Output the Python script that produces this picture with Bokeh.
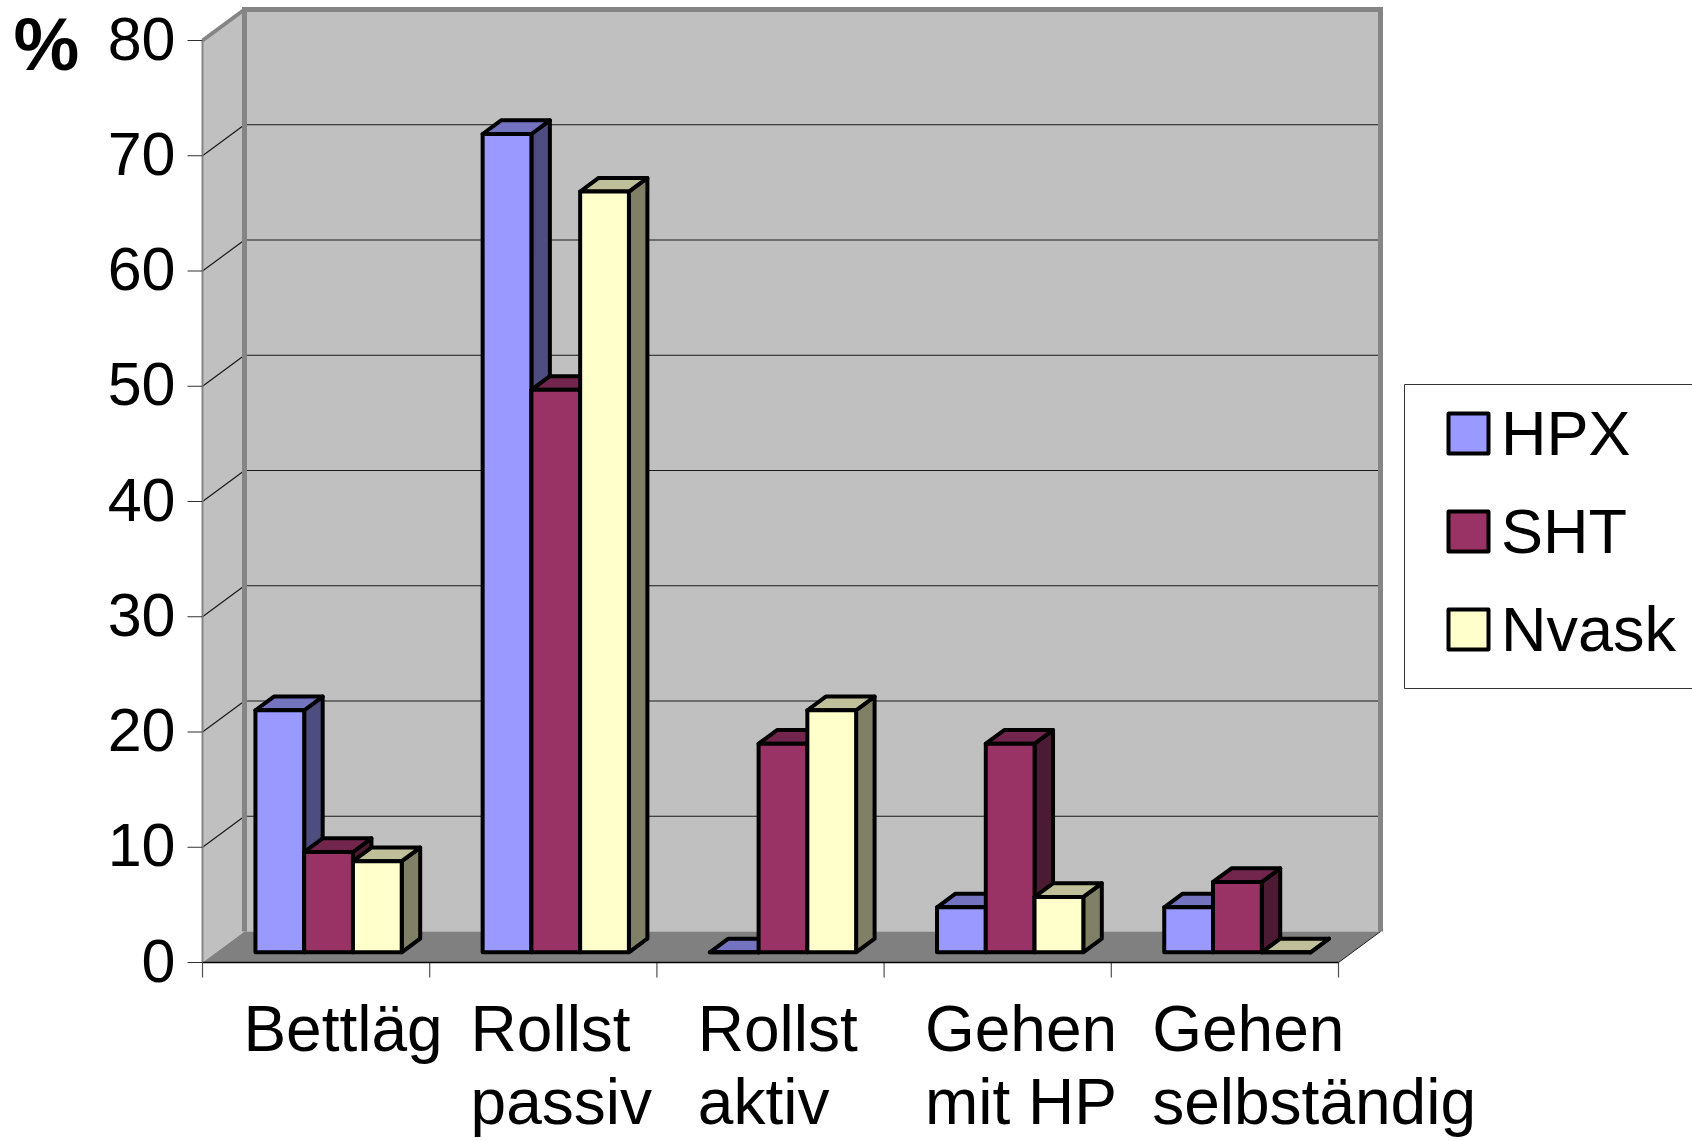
from bokeh.plotting import figure
from bokeh.models import Range1d, Legend, LegendItem
from bokeh.core.properties import value
from bokeh.embed import file_html
from bokeh.resources import INLINE

# ---------------- data ----------------
categories = ["Bettläg", "Rollst passiv", "Rollst aktiv", "Gehen mit HP", "Gehen selbständig"]
label_lines = [["Bettläg"], ["Rollst", "passiv"], ["Rollst", "aktiv"],
               ["Gehen", "mit HP"], ["Gehen", "selbständig"]]
series_names = ["HPX", "SHT", "Nvask"]
hpx = [21.0, 71.0, 0.0, 3.9, 3.9]
sht = [8.7, 48.8, 18.1, 18.1, 6.1]
nvask = [7.9, 66.0, 21.0, 4.8, 0.0]
y_ticks = [0, 10, 20, 30, 40, 50, 60, 70, 80]
y_max = 80
unit_label = "%"

# ---------------- styles / geometry ----------------
front_colors = ["#9999FF", "#993366", "#FFFFCC"]
top_colors = ["#7373BF", "#73264D", "#BFBF99"]
side_colors = ["#4D4D80", "#4D1A33", "#808066"]
FONT = "Liberation Sans"

W, H = 1692, 1141
AX_LEFT = 202          # px of the front value axis
AX_BASE = 962          # px of the zero line
CAT_PX = 227.2         # px per category
UNIT_PX = 11.525       # px per value unit
DX = 42 / CAT_PX       # depth offset of back wall (x, data units)
DY = 31 / UNIT_PX      # depth offset of back wall (y, data units)
Z0 = 0.33              # bar front depth fraction
ZB = 0.44              # bar depth fraction
BAR_OFF = 0.172
BAR_W = 0.2146
TICK = 15              # px tick length
OUTLINE = 4
n_cat = len(categories)


def px_x(px):
    return (px - AX_LEFT) / CAT_PX


def px_y(py):
    return (AX_BASE - py) / UNIT_PX


p = figure(width=W, height=H, output_backend="svg", toolbar_location=None,
           x_range=Range1d(px_x(0), px_x(W)), y_range=Range1d(px_y(H), px_y(0)),
           x_axis_type=None, y_axis_type=None, title=None,
           min_border_left=0, min_border_bottom=0, min_border_top=0, min_border_right=0)
p.outline_line_color = None
p.background_fill_color = "white"
p.border_fill_color = "white"

# ---------------- walls ----------------
p.patch([0, DX, DX, 0], [0, DY, y_max + DY, y_max], fill_color="#C0C0C0", line_color=None)
p.quad(left=[DX], right=[n_cat + DX], bottom=[DY], top=[y_max + DY],
       fill_color="#C0C0C0", line_color=None)
p.patch([0, n_cat, n_cat + DX, DX], [0, 0, DY, DY], fill_color="#808080", line_color=None)

grid_vals = [v for v in y_ticks if 0 < v < y_max]
p.multi_line(xs=[[0, DX, n_cat + DX] for v in grid_vals],
             ys=[[v, v + DY, v + DY] for v in grid_vals],
             line_color="#1a1a1a", line_width=1.2)
# wall borders
p.line([DX, DX, n_cat + DX, n_cat + DX], [DY, y_max + DY, y_max + DY, DY],
       line_color="#858585", line_width=5, line_join="miter")
p.line([0, DX], [y_max, y_max + DY], line_color="#858585", line_width=4)
p.line([n_cat, n_cat + DX], [0, DY], line_color="#202020", line_width=1)

# ---------------- value axis (front left) ----------------
p.line([0, 0], [0, y_max], line_color="#858585", line_width=2)
tx = TICK / CAT_PX
p.segment(x0=[-tx] * len(y_ticks), y0=y_ticks, x1=[0] * len(y_ticks), y1=y_ticks,
          line_color="#303030", line_width=1.2)
p.text(x=[px_x(AX_LEFT - TICK - 12)] * len(y_ticks),
       y=[v + 2 / UNIT_PX for v in y_ticks], text=[str(v) for v in y_ticks],
       text_align="right", text_baseline="alphabetic", text_color="black",
       text_font=value(FONT), text_font_size=value("61px"))
p.text(x=[px_x(13)], y=[px_y(44)], text=[unit_label], text_align="left",
       text_baseline="alphabetic", text_color="black", text_font=value(FONT),
       text_font_size=value("74px"), text_font_style="bold")

# ---------------- category axis (front bottom) ----------------
ty = TICK / UNIT_PX
cat_edges = list(range(n_cat + 1))
p.segment(x0=cat_edges, y0=[0] * len(cat_edges), x1=cat_edges, y1=[-ty] * len(cat_edges),
          line_color="#505050", line_width=1.2)
p.line([0, n_cat], [0, 0], line_color="black", line_width=1.5)

lx, ly, lt = [], [], []
for i, lines in enumerate(label_lines):
    for j, t in enumerate(lines):
        lx.append(i + 0.18)
        ly.append(px_y(1028 + 73 * j))
        lt.append(t)
p.text(x=lx, y=ly, text=lt, text_align="left", text_baseline="alphabetic",
       text_color="black", text_font=value(FONT), text_font_size=value("64px"))

# ---------------- bars ----------------
bdx, bdy = ZB * DX, ZB * DY
front_renderers = []
for s, vals in enumerate([hpx, sht, nvask]):
    side_xs, side_ys, top_xs, top_ys, fr_xs, fr_ys = [], [], [], [], [], []
    for i, v in enumerate(vals):
        xl = i + BAR_OFF + s * BAR_W + Z0 * DX
        xr = xl + BAR_W
        yb = Z0 * DY
        yt = v + Z0 * DY
        side_xs.append([xr, xr + bdx, xr + bdx, xr])
        side_ys.append([yb, yb + bdy, yt + bdy, yt])
        top_xs.append([xl, xr, xr + bdx, xl + bdx])
        top_ys.append([yt, yt, yt + bdy, yt + bdy])
        fr_xs.append([xl, xr, xr, xl])
        fr_ys.append([yb, yb, yt, yt])
    p.patches(side_xs, side_ys, fill_color=side_colors[s], line_color="black",
              line_width=OUTLINE, line_join="round")
    p.patches(top_xs, top_ys, fill_color=top_colors[s], line_color="black",
              line_width=OUTLINE, line_join="round")
    r = p.patches(fr_xs, fr_ys, fill_color=front_colors[s], line_color="black",
                  line_width=OUTLINE, line_join="round")
    front_renderers.append(r)

# ---------------- legend ----------------
# frame of the legend box (extends past the right edge as in the original)
p.quad(left=[px_x(1404)], right=[px_x(1700)], top=[px_y(384)], bottom=[px_y(688)],
       fill_color="white", line_color="#333333", line_width=1)
legend = Legend(items=[LegendItem(label=n, renderers=[r]) for n, r in zip(series_names, front_renderers)],
                location=(1423, H - 685), orientation="vertical",
                glyph_width=50, glyph_height=50, label_standoff=8, spacing=26, padding=20,
                label_text_font=FONT, label_text_font_size="63px", label_text_color="black",
                border_line_alpha=0, background_fill_alpha=0)
p.add_layout(legend, "center")

open("out.html", "w").write(file_html(p, INLINE))
